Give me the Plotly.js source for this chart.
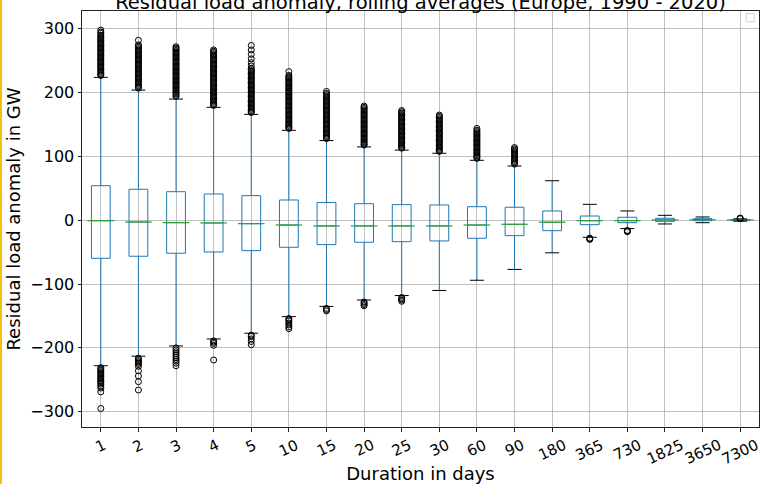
<!DOCTYPE html>
<html><head><meta charset="utf-8">
<script src="https://cdn.plot.ly/plotly-3.0.1.min.js"></script>
<style>html,body{margin:0;padding:0;background:#fff;overflow:hidden}
#chart{width:760px;height:484px;position:absolute;left:0;top:0}
#edge{position:absolute;left:0;top:0;width:2px;height:484px;background:#f2c10c;z-index:10}
</style></head><body><div id="chart"></div><div id="edge"></div>
<script>
const categories = ['1','2','3','4','5','10','15','20','25','30','60','90','180','365','730','1825','3650','7300'];
const q1 =        [-59.6,-56.4,-51.7,-49.7,-47.6,-42.3,-38.2,-34.5,-33.5,-32.4,-28.2,-24.1,-16.3,-6.9,-3.8,-1.6,-0.6,-0.3];
const medians =   [-0.6,-2.7,-3.7,-4.2,-5.3,-7.4,-8.9,-8.9,-8.9,-8.9,-7.4,-6.3,-3.1,-0.6,-0.6,0.5,0.8,0.5];
const q3 =        [54.2,48.6,44.8,41.2,38.6,31.8,27.8,26,24.5,24,21.3,20.4,14.6,6.7,4.7,3.1,2.5,1.2];
const lowerWhisker = [-228,-213,-197,-186,-177,-151,-135,-125,-118,-110,-94,-77,-51,-26.6,-13,-5.8,-3.8,-1.5];
const upperWhisker = [224,204,190,177,166,141,125,115,110,105,94,85,62,25,14.6,7.8,5.2,2.2];

const outliersHigh = [
  [298,295,293,290,288,286,284,282,280,278,276,274,272,270,268,266,264,262,260,258,256,254,252,250,248,246,244,242,240,238,236,234,232,230,228,227],
  [282,275,273,271,269,267,265,263,261,259,257,255,253,251,249,247,245,243,241,239,237,235,233,231,229,227,225,223,221,219,217,215,213,211,209,207],
  [272,270,268,266,264,262,260,258,256,254,252,250,248,246,244,242,240,238,236,234,232,230,228,226,224,222,220,218,216,214,212,210,208,206,204,202,200,198,196,194],
  [267,265,263,261,259,257,255,253,251,249,247,245,243,241,239,237,235,233,231,229,227,225,223,221,219,217,215,213,211,209,207,205,203,201,199,197,195,193,191,189,187,185,183,181,180],
  [274,267,260,253,247,242,238,236,234,232,230,228,226,224,222,220,218,216,214,212,210,208,206,204,202,200,198,196,194,192,190,188,186,184,182,180,178,176,174,172,170,169],
  [233,227,225,223,221,219,217,215,213,211,209,207,205,203,201,199,197,195,193,191,189,187,185,183,181,179,177,175,173,171,169,167,165,163,161,159,157,155,153,151,149,147,145,144],
  [202,199,197,195,193,191,189,187,185,183,181,179,177,175,173,171,169,167,165,163,161,159,157,155,153,151,149,147,145,143,141,139,137,135,133,131,129,128],
  [179,177,175,173,171,169,167,165,163,161,159,157,155,153,151,149,147,145,143,141,139,137,135,133,131,129,127,125,123,121,119,118],
  [172,170,168,166,164,162,160,158,156,154,152,150,148,146,144,142,140,138,136,134,132,130,128,126,124,122,120,118,116,114,113],
  [165,163,161,159,157,155,153,151,149,147,145,143,141,139,137,135,133,131,129,127,125,123,121,119,117,115,113,111,109,108],
  [144,141,139,137,135,133,131,129,127,125,123,121,119,117,115,113,111,109,107,105,103,101,99,97],
  [114,112,110,108,106,104,102,100,98,96,94,92,90,88],
  [], [], [], [], [],
  [2.6,3.0,3.4]
];
const outliersLow = [
  [-231,-233,-235,-237,-239,-241,-243,-245,-247,-249,-251,-253,-255,-257,-260,-263,-269,-295],
  [-216,-218,-220,-222,-224,-226,-229,-236,-244,-253,-266],
  [-200,-203,-206,-209,-212,-215,-218,-221,-224,-228],
  [-189,-191,-193,-196,-219],
  [-180,-182,-186,-190,-195],
  [-154,-156,-158,-161,-164,-167,-170],
  [-138,-140,-142],
  [-128,-130,-132,-134],
  [-121,-123,-125,-127],
  [], [], [], [],
  [-28,-29,-30],
  [-16,-17,-18],
  [], [], []
];

const titleText = 'Residual load anomaly, rolling averages (Europe, 1990 - 2020)';
const xTitle = 'Duration in days';
const yTitle = 'Residual load anomaly in GW';

const ox = [], oy = [];
categories.forEach((c, i) => {
  outliersHigh[i].forEach(v => { ox.push(c); oy.push(v); });
  outliersLow[i].forEach(v => { ox.push(c); oy.push(v); });
});

const traces = [
  {
    type: 'box', x: categories, q1: q1, median: medians, q3: q3,
    lowerfence: lowerWhisker, upperfence: upperWhisker,
    width: 0.5, boxpoints: false, whiskerwidth: 0,
    line: {color: '#1f77b4', width: 1}, fillcolor: 'rgba(0,0,0,0)',
    hoverinfo: 'skip', showlegend: false
  },
  {
    type: 'scatter', mode: 'markers', x: categories, y: medians,
    marker: {symbol: 'line-ew-open', size: 19, color: '#2ca02c', line: {color: '#2ca02c', width: 1.2}},
    hoverinfo: 'skip', showlegend: false
  },
  {
    type: 'scatter', mode: 'markers', x: categories.concat(categories), y: lowerWhisker.concat(upperWhisker),
    marker: {symbol: 'line-ew-open', size: 10, color: '#000', line: {color: '#000', width: 1}},
    hoverinfo: 'skip', showlegend: false
  },
  {
    type: 'scatter', mode: 'markers', x: ox, y: oy,
    marker: {symbol: 'circle-open', size: 6, color: '#000', line: {color: '#000', width: 1}},
    hoverinfo: 'skip', showlegend: false
  }
];

const annotations = categories.map((c, i) => ({
  x: i, xref: 'x', y: 0, yref: 'paper', yanchor: 'top', xanchor: 'center',
  yshift: -6, text: c, showarrow: false, textangle: -25,
  font: {family: 'DejaVu Sans', size: 15, color: '#000'}
}));

const layout = {
  width: 760, height: 484,
  margin: {l: 82, r: 1, t: 11, b: 57},
  paper_bgcolor: '#fff', plot_bgcolor: '#fff',
  font: {family: 'DejaVu Sans', color: '#000'},
  showlegend: false,
  title: {text: titleText, font: {size: 19.5, color: '#000'}, x: 0.5, xref: 'paper', y: 0.996, yref: 'container', yanchor: 'middle'},
  xaxis: {
    type: 'category', categoryorder: 'array', categoryarray: categories,
    range: [-0.5, 17.5], showgrid: true, gridcolor: '#b0b0b0', gridwidth: 0.8,
    showticklabels: false, ticks: 'outside', ticklen: 4, tickcolor: '#222',
    showline: true, mirror: true, linecolor: '#222', linewidth: 1, zeroline: false,
    title: {text: xTitle, font: {size: 18, color: '#000'}, standoff: 37}
  },
  yaxis: {
    range: [-324, 328], dtick: 100, tick0: 0,
    showgrid: true, gridcolor: '#b0b0b0', gridwidth: 0.8, zeroline: false,
    showline: true, mirror: true, linecolor: '#222', linewidth: 1,
    ticks: 'outside', ticklen: 3.5, tickcolor: '#222',
    tickfont: {size: 16, color: '#000'},
    title: {text: yTitle, font: {size: 18, color: '#000'}, standoff: 5}
  },
  annotations: annotations,
  shapes: [{type: 'rect', xref: 'paper', yref: 'paper', x0: 0.981, x1: 0.993, y0: 0.974, y1: 0.994,
            line: {color: '#d0d0d0', width: 1}, fillcolor: 'rgba(0,0,0,0)'}]
};

Plotly.newPlot('chart', traces, layout, {staticPlot: true, displayModeBar: false});
</script></body></html>
